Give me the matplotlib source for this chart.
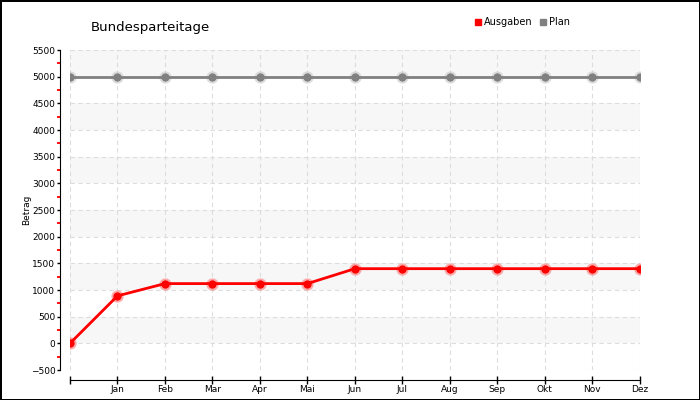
import numpy as np
import matplotlib.pyplot as plt
from matplotlib.ticker import MultipleLocator
from matplotlib.lines import Line2D

months = ['', 'Jan', 'Feb', 'Mar', 'Apr', 'Mai', 'Jun', 'Jul', 'Aug', 'Sep', 'Okt', 'Nov', 'Dez']
ausgaben = [0, 890, 1120, 1120, 1120, 1120, 1400, 1400, 1400, 1400, 1400, 1400, 1400]
plan = [5000] * 13

fig = plt.figure(figsize=(7, 4), dpi=100)
fig.patch.set_edgecolor('black')
fig.patch.set_linewidth(2)
ax = fig.add_axes([0.1, 0.075, 0.814, 0.8])

x = np.arange(len(months))

# shaded bands
for lo in range(0, 5500, 1000):
    ax.axhspan(lo, lo + 500, color='#f7f7f7', zorder=0, lw=0)

ax.grid(True, color='#dddddd', ls=(0, (4, 3)), lw=0.8, zorder=1)

# plan line
ax.plot(x, plan, color='#cccccc', lw=0, marker='o', ms=8, alpha=0.5, zorder=2)
ax.plot(x, plan, color='#808080', lw=2, marker='o', ms=5, zorder=3)
# ausgaben line
ax.plot(x, ausgaben, color='#ff8080', lw=0, marker='o', ms=8, alpha=0.5, zorder=2)
ax.plot(x, ausgaben, color='#ff0000', lw=2, marker='o', ms=5, zorder=3)

ax.set_xlim(0, 12)
ax.set_ylim(-500, 5500)
ax.set_xticks(x)
ax.set_xticklabels(months)
ax.yaxis.set_major_locator(MultipleLocator(500))
ax.yaxis.set_minor_locator(MultipleLocator(250))
ax.tick_params(axis='y', which='major', labelsize=6.5, length=2.5, width=1, pad=1)
ax.tick_params(axis='y', which='minor', length=2.5, color='#ff0000', width=1.3)
ax.tick_params(axis='x', which='major', length=6, direction='inout', width=1,
               labelsize=6.5, pad=1)

for s in ['top', 'right']:
    ax.spines[s].set_visible(False)
ax.spines['left'].set_position(('outward', 7))
ax.spines['bottom'].set_position(('outward', 7))

ax.set_ylabel('Betrag', fontsize=6.5)
ax.yaxis.set_label_coords(-0.069, 0.5)
fig.text(0.129, 0.93, 'Bundesparteitage', fontsize=9.5, ha='left', va='center')

handles = [Line2D([], [], color='red', marker='s', ls='', ms=5),
           Line2D([], [], color='#808080', marker='s', ls='', ms=5)]
fig.legend(handles, ['Ausgaben', 'Plan'], loc='center', bbox_to_anchor=(0.745, 0.945),
           ncol=2, frameon=False, fontsize=7, handletextpad=0.1, columnspacing=0.6,
           handlelength=1)

fig.savefig('out.png', dpi=100)
